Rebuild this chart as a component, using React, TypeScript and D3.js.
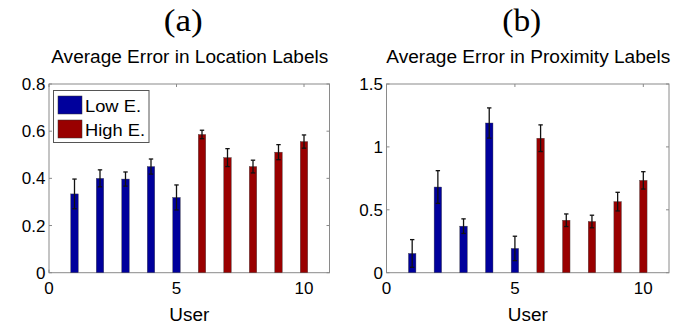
import React from 'react';
import * as d3 from 'd3';

// users 1..10, first five are "Low E.", last five "High E."
const users = [1, 2, 3, 4, 5, 6, 7, 8, 9, 10];
const groups = ['low', 'low', 'low', 'low', 'low', 'high', 'high', 'high', 'high', 'high'];
const locationMean = [0.334, 0.4, 0.397, 0.45, 0.319, 0.586, 0.488, 0.45, 0.511, 0.556];
const locationErr = [0.063, 0.036, 0.03, 0.032, 0.053, 0.018, 0.038, 0.027, 0.032, 0.028];
const proximityMean = [0.153, 0.681, 0.37, 1.19, 0.193, 1.069, 0.417, 0.407, 0.565, 0.734];
const proximityErr = [0.11, 0.13, 0.058, 0.12, 0.097, 0.106, 0.05, 0.05, 0.074, 0.069];
const xTicks = [0, 5, 10];
const locationTicks = [0, 0.2, 0.4, 0.6, 0.8];
const proximityTicks = [0, 0.5, 1, 1.5];

const colors: Record<string, string> = { low: '#00009c', high: '#990000' };
const font = 'Liberation Sans, Arial, Helvetica, sans-serif';

type PanelProps = {
  left: number;
  right: number;
  letter: string;
  title: string;
  titleLen: number;
  means: number[];
  errs: number[];
  yMax: number;
  yTicks: number[];
  legend?: boolean;
};

function Panel({ left, right, letter, title, titleLen, means, errs, yMax, yTicks, legend }: PanelProps) {
  const top = 84;
  const bottom = 272.7;
  const x = d3.scaleLinear().domain([0, 11]).range([left, right]);
  const y = d3.scaleLinear().domain([0, yMax]).range([bottom, top]);
  const barW = 7.5;
  const cap = 2.2;
  const tick = 3;
  const cx = (left + right) / 2;

  return (
    <g>
      <text x={cx - 6} y={31} textAnchor="middle" fontFamily="Liberation Serif, Times New Roman, serif" fontSize={31} textLength={39} lengthAdjust="spacingAndGlyphs">
        {letter}
      </text>
      <text x={cx + 0.5} y={62.5} textAnchor="middle" fontFamily={font} fontSize={17.5} textLength={titleLen} lengthAdjust="spacingAndGlyphs">
        {title}
      </text>

      {/* box */}
      <rect x={left} y={top} width={right - left} height={bottom - top} fill="white" stroke="#8a8a8a" strokeWidth={1} />

      {/* ticks, matlab style inside on all four sides */}
      {xTicks.map(t => (
        <g key={'x' + t}>
          <line x1={x(t)} x2={x(t)} y1={bottom} y2={bottom - tick} stroke="#8a8a8a" />
          <line x1={x(t)} x2={x(t)} y1={top} y2={top + tick} stroke="#8a8a8a" />
          <text x={x(t)} y={bottom + 21} textAnchor="middle" fontFamily={font} fontSize={17}>
            {t}
          </text>
        </g>
      ))}
      {yTicks.map(t => (
        <g key={'y' + t}>
          <line x1={left} x2={left + tick} y1={y(t)} y2={y(t)} stroke="#8a8a8a" />
          <line x1={right} x2={right - tick} y1={y(t)} y2={y(t)} stroke="#8a8a8a" />
          <text x={left - 3.5} y={y(t) + 6} textAnchor="end" fontFamily={font} fontSize={17}>
            {t}
          </text>
        </g>
      ))}

      {/* bars */}
      {users.map((u, i) => (
        <rect
          key={'b' + u}
          x={x(u) - barW / 2}
          y={y(means[i])}
          width={barW}
          height={bottom - y(means[i])}
          fill={colors[groups[i]]}
          stroke="#444"
          strokeWidth={0.4}
        />
      ))}

      {/* error bars */}
      {users.map((u, i) => {
        const y1 = y(means[i] + errs[i]);
        const y0 = y(means[i] - errs[i]);
        return (
          <g key={'e' + u} stroke="#111" strokeWidth={1.3}>
            <line x1={x(u)} x2={x(u)} y1={y1} y2={y0} />
            <line x1={x(u) - cap} x2={x(u) + cap} y1={y1} y2={y1} />
            <line x1={x(u) - cap} x2={x(u) + cap} y1={y0} y2={y0} />
          </g>
        );
      })}

      {legend && (
        <g>
          <rect x={53.5} y={90.5} width={95.5} height={52} fill="white" stroke="#555" strokeWidth={1} />
          <rect x={58} y={96} width={24} height={18} fill={colors.low} stroke="#333" strokeWidth={0.5} />
          <rect x={58} y={120} width={24} height={18} fill={colors.high} stroke="#333" strokeWidth={0.5} />
          <text x={85} y={111.5} fontFamily={font} fontSize={17} textLength={56} lengthAdjust="spacingAndGlyphs">Low E.</text>
          <text x={85} y={136} fontFamily={font} fontSize={17} textLength={60} lengthAdjust="spacingAndGlyphs">High E.</text>
        </g>
      )}

      <text x={cx} y={320.5} textAnchor="middle" fontFamily={font} fontSize={18} textLength={40} lengthAdjust="spacingAndGlyphs">
        User
      </text>
    </g>
  );
}

export default function App() {
  return (
    <svg width={684} height={328} style={{ position: 'absolute', left: 0, top: 0, background: 'white' }}>
      <rect width={684} height={328} fill="white" />
      <Panel
        left={49}
        right={329.5}
        letter="(a)"
        title="Average Error in Location Labels"
        titleLen={277}
        means={locationMean}
        errs={locationErr}
        yMax={0.8}
        yTicks={locationTicks}
        legend
      />
      <Panel
        left={386.5}
        right={669}
        letter="(b)"
        title="Average Error in Proximity Labels"
        titleLen={284}
        means={proximityMean}
        errs={proximityErr}
        yMax={1.5}
        yTicks={proximityTicks}
      />
    </svg>
  );
}
